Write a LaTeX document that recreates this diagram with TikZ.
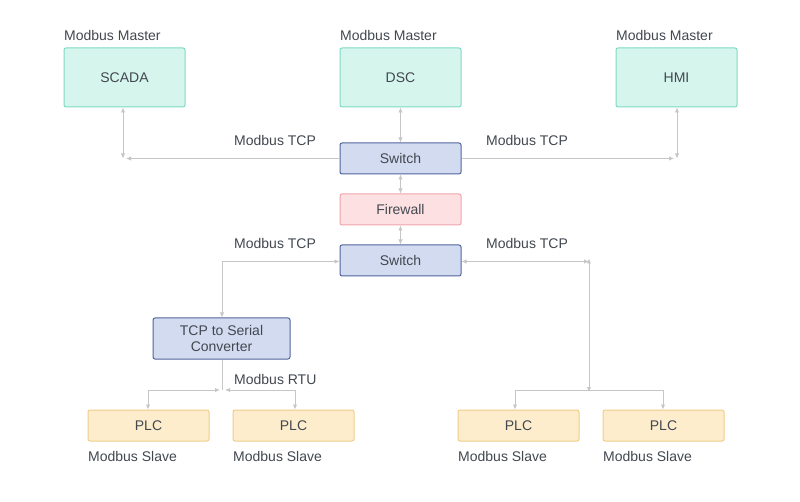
\documentclass[tikz,border=0pt]{standalone}
\usepackage{fontspec}
\setmainfont{Liberation Sans}
\usetikzlibrary{arrows.meta}
\definecolor{txt}{RGB}{66,72,80}
\definecolor{line}{RGB}{198,198,200}
\definecolor{tealfill}{RGB}{214,245,237}
\definecolor{tealdraw}{RGB}{125,218,196}
\definecolor{bluefill}{RGB}{210,219,240}
\definecolor{bluedraw}{RGB}{82,100,156}
\definecolor{redfill}{RGB}{253,225,226}
\definecolor{reddraw}{RGB}{240,165,172}
\definecolor{yelfill}{RGB}{253,237,204}
\definecolor{yeldraw}{RGB}{240,206,136}
\tikzset{
  box/.style={draw, line width=1pt, rounded corners=2pt, text=txt,
    font=\fontsize{14}{15.5}\selectfont, minimum width=121pt, inner sep=0pt, align=center},
  masterbox/.style={box, fill=tealfill, draw=tealdraw, minimum height=59pt},
  netbox/.style={box, fill=bluefill, draw=bluedraw, minimum height=31pt},
  fwbox/.style={box, fill=redfill, draw=reddraw, minimum height=31pt},
  plcbox/.style={box, fill=yelfill, draw=yeldraw, minimum height=31pt},
  lbl/.style={anchor=base west, text=txt, inner sep=0pt, font=\fontsize{14}{15.5}\selectfont},
  conn/.style={draw=line, line width=0.9pt, arrows={-}},
  tip/.style={-{Latex[length=5pt,width=4.5pt]}},
  tips/.style={{Latex[length=5pt,width=4.5pt]}-{Latex[length=5pt,width=4.5pt]}},
}
\begin{document}
\begin{tikzpicture}[x=1pt,y=-1pt]
\useasboundingbox[fill=white] (0,0) rectangle (800,502);
% masters
\node[masterbox] (scada) at (124.5,77.5) {SCADA};
\node[masterbox] (dsc) at (400.5,77.5) {DSC};
\node[masterbox] (hmi) at (676.5,77.5) {HMI};
\node[lbl] (m1) at (64,41) {Modbus Master};
\node[lbl] (m2) at (340,41) {Modbus Master};
\node[lbl] (m3) at (616,41) {Modbus Master};
% network
\node[netbox] (sw1) at (400.5,158.5) {Switch};
\node[fwbox] (fw) at (400.5,209.5) {Firewall};
\node[netbox] (sw2) at (400.5,260.5) {Switch};
\node[netbox, minimum width=137pt, minimum height=41pt, font=\fontsize{14}{16}\selectfont] (conv) at (221.5,338.5) {TCP to Serial\\Converter};
% PLCs
\node[plcbox] (p1) at (148.5,425.5) {PLC};
\node[plcbox] (p2) at (293.5,425.5) {PLC};
\node[plcbox] (p3) at (518.5,425.5) {PLC};
\node[plcbox] (p4) at (663.5,425.5) {PLC};
\node[lbl] (s1) at (88,461) {Modbus Slave};
\node[lbl] (s2) at (233,461) {Modbus Slave};
\node[lbl] (s3) at (458,461) {Modbus Slave};
\node[lbl] (s4) at (603,461) {Modbus Slave};
% protocol labels
\node[lbl] (t1) at (234,146) {Modbus TCP};
\node[lbl] (t2) at (486,146) {Modbus TCP};
\node[lbl] (t3) at (234,249) {Modbus TCP};
\node[lbl] (t4) at (486,249) {Modbus TCP};
\node[lbl] (t5) at (234,384) {Modbus RTU};
% coordinates
\coordinate (cl) at (123,158.5);
\coordinate (cr) at (677,158.5);
\coordinate (c2l) at (222,261.5);
\coordinate (c2r) at (589,261.5);
\coordinate (rb) at (589,390);
\coordinate (lb) at (222.5,390);
\coordinate (lbL) at (220,390);
\coordinate (lbR) at (225,390);
% top connectors
\draw[conn,tips] (scada.south -| cl) -- (cl);
\draw[conn,tip] (sw1.west) -- ([xshift=3pt]cl);
\draw[conn,tips] (hmi.south -| cr) -- (cr);
\draw[conn,tip] (sw1.east) -- ([xshift=-3pt]cr);
\draw[conn,tips] (dsc.south) -- (sw1.north);
\draw[conn,tips] (sw1.south) -- (fw.north);
\draw[conn,tips] (fw.south) -- (sw2.north);
% lower left
\draw[conn,tips] (conv.north -| c2l) |- (sw2.west |- c2l);
\draw[conn] (conv.south -| lb) -- (lb);
\draw[conn,tips] (p1.north -| 148,0) |- (lbL);
\draw[conn,tips] (p2.north -| 295,0) |- (lbR);
% lower right
\draw[conn,tips] (sw2.east |- c2r) -- (c2r);
\draw[conn,tips] ([yshift=3pt]c2r) -- ([yshift=-2pt]rb);
\draw[conn,tip] (rb) -| (p3.north -| 515,0);
\draw[conn,tip] (rb) -| (p4.north -| 663,0);
\end{tikzpicture}
\end{document}
